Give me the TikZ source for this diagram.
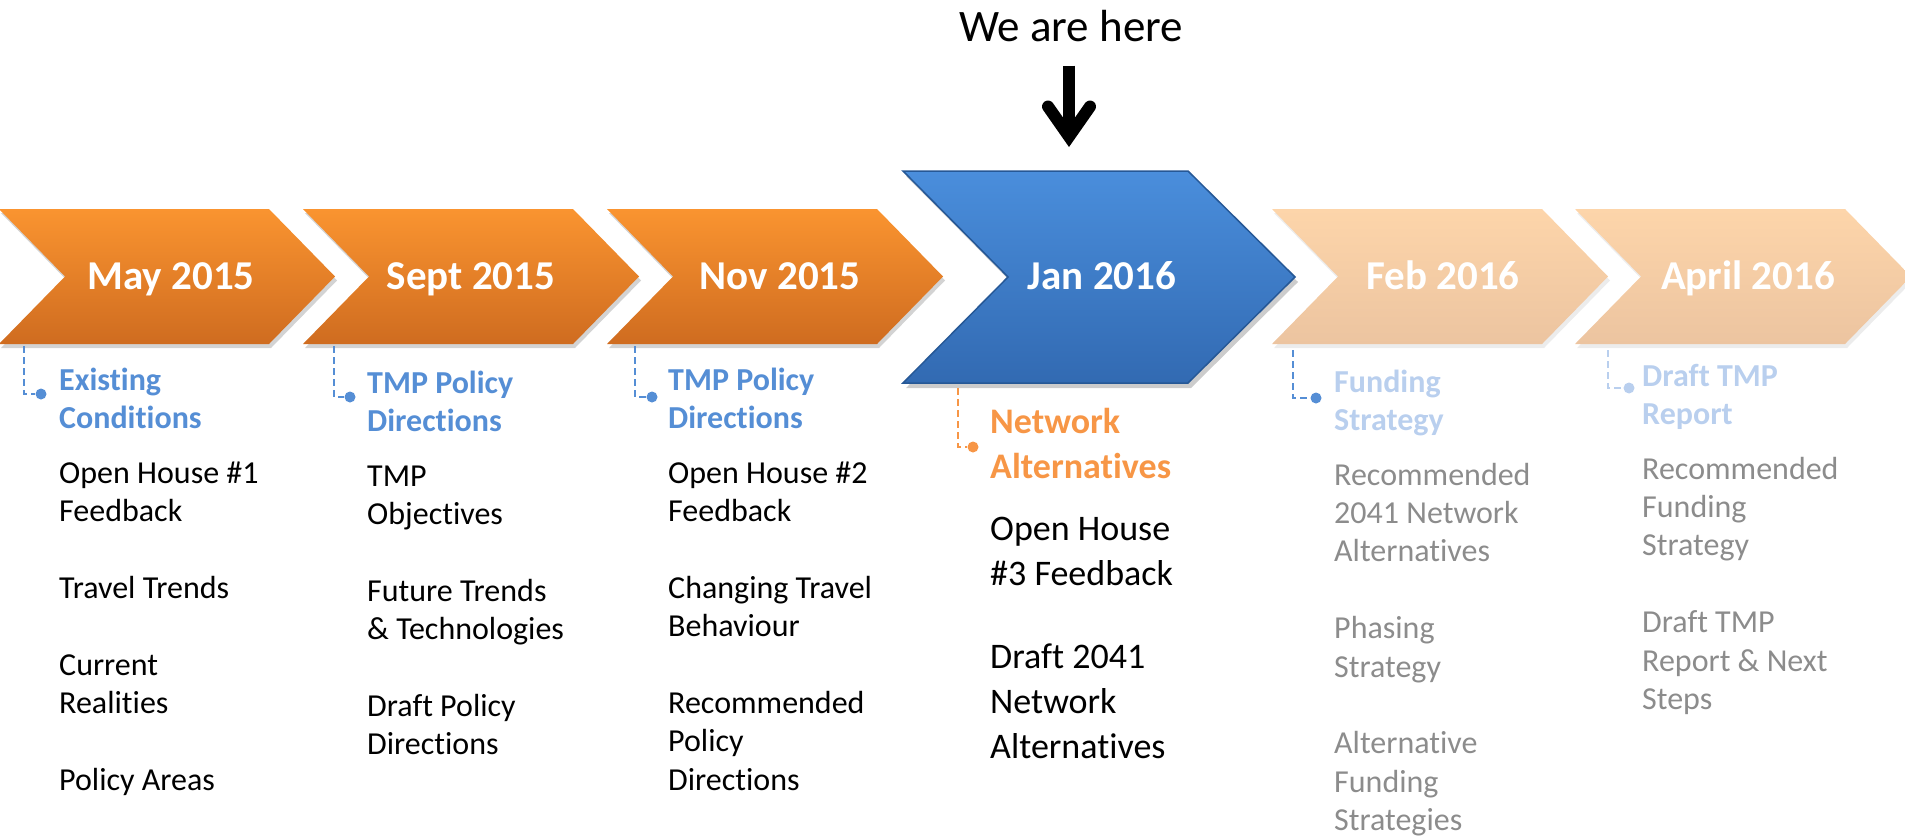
\documentclass[tikz,border=0pt]{standalone}
\usepackage{fontspec}
\setmainfont{Carlito}[Ligatures={NoCommon}]
\usetikzlibrary{arrows.meta, shadows, positioning}
\definecolor{orangetop}{RGB}{250,148,48}
\definecolor{orangebot}{RGB}{207,108,32}
\definecolor{peachtop}{RGB}{253,213,170}
\definecolor{peachbot}{RGB}{236,196,160}
\definecolor{bluetop}{RGB}{74,142,220}
\definecolor{bluebot}{RGB}{50,106,178}
\definecolor{blueedge}{RGB}{38,88,150}
\definecolor{headblue}{RGB}{85,142,213}
\definecolor{headorange}{RGB}{247,150,70}
\definecolor{fadeblue}{RGB}{185,207,238}
\definecolor{fadegrey}{RGB}{140,140,140}
\tikzset{>=stealth}

\begin{document}
\begin{tikzpicture}[x=1pt, y=-1pt,
  orangechev/.style={top color=orangetop, bottom color=orangebot, drop shadow={opacity=.35, shadow xshift=2pt, shadow yshift=-4pt}},
  peachchev/.style={top color=peachtop, bottom color=peachbot, drop shadow={opacity=.15, shadow xshift=2pt, shadow yshift=-4pt}},
  date/.style={anchor=base, inner sep=0, text=white, font=\fontsize{41}{49}\selectfont\bfseries},
  head/.style={anchor=base west, inner sep=0, align=left, font=\fontsize{32}{38.4}\selectfont\bfseries},
  item/.style={anchor=base west, inner sep=0, align=left, font=\fontsize{32}{38.4}\selectfont},
  dot/.style={circle, inner sep=0, minimum size=11pt},
  bracket/.style={dash pattern=on 7pt off 4pt, line width=1.6pt}]
\useasboundingbox (0,0) rectangle (1905,836);
\clip (0,0) rectangle (1905,836);

\node[anchor=base, inner sep=0, font=\fontsize{45}{54}\selectfont] (here) at (1071,41) {We are here};
\coordinate (hereend) at (1069,147);
\draw[line width=12pt, -{Straight Barb[length=30pt, width=42pt, line cap=round, line join=miter]}, shorten <=24pt] (here.south -| hereend) -- (hereend);

\foreach \l in {-1,303,607}
  \path[orangechev] (\l,209) -- ++(270,0) -- ++(66,67.5) -- ++(-66,67.5) -- ++(-270,0) -- ++(66,-67.5) -- cycle;
\foreach \l in {1272,1575}
  \path[peachchev] (\l,209) -- ++(270,0) -- ++(66,67.5) -- ++(-66,67.5) -- ++(-270,0) -- ++(66,-67.5) -- cycle;
\path[top color=bluetop, bottom color=bluebot, draw=blueedge, line width=1.5pt, drop shadow={opacity=.4, shadow xshift=3pt, shadow yshift=-5pt}]
  (903,171) -- (1188,171) -- (1295,277) -- (1188,383) -- (903,383) -- (1008,277) -- cycle;

\node[date] (may) at (171,289) {May 2015};
\node[date] (sept) at (471,289) {Sept 2015};
\node[date] (nov) at (780,289) {Nov 2015};
\node[date] (jan) at (1102,289) {Jan 2016};
\node[date] (feb) at (1443,289) {Feb 2016};
\node[date] (april) at (1748,289) {April 2016};

\node[head, text=headblue] (mayhead) at (59,428.4) {Existing\\Conditions};
\node[dot, fill=headblue] (maydot) at (41,394) {};
\coordinate (maytop) at (24,346);
\draw[bracket, headblue] (maytop) |- (maydot);
\node[item] (mayitems) at (59,790.2) {Open House \#1\\Feedback\\[38.4pt]Travel Trends\\[38.4pt]Current\\Realities\\[38.4pt]Policy Areas};

\node[head, text=headblue] (septhead) at (367,431.4) {TMP Policy\\Directions};
\node[dot, fill=headblue] (septdot) at (350,397) {};
\coordinate (septtop) at (334,346);
\draw[bracket, headblue] (septtop) |- (septdot);
\node[item] (septitems) at (367,754.8) {TMP\\Objectives\\[38.4pt]Future Trends\\\& Technologies\\[38.4pt]Draft Policy\\Directions};

\node[head, text=headblue] (novhead) at (668,428.4) {TMP Policy\\Directions};
\node[dot, fill=headblue] (novdot) at (652,397) {};
\coordinate (novtop) at (635,346);
\draw[bracket, headblue] (novtop) |- (novdot);
\node[item] (novitems) at (668,790.2) {Open House \#2\\Feedback\\[38.4pt]Changing Travel\\Behaviour\\[38.4pt]Recommended\\Policy\\Directions};

\node[head, text=headorange, font=\fontsize{36}{45}\selectfont\bfseries] (janhead) at (990,478) {Network\\Alternatives};
\node[dot, fill=headorange] (jandot) at (973,447) {};
\coordinate (jantop) at (958,388);
\draw[bracket, headorange] (jantop) |- (jandot);
\node[item, font=\fontsize{36}{45}\selectfont] (janitems) at (990,758) {Open House\\\#3 Feedback\\[38pt]Draft 2041\\Network\\Alternatives};

\node[head, text=fadeblue] (febhead) at (1334,430.4) {Funding\\Strategy};
\node[dot, fill=headblue] (febdot) at (1316,398) {};
\coordinate (febtop) at (1293,350);
\draw[bracket, headblue] (febtop) |- (febdot);
\node[item, text=fadegrey] (febitems) at (1334,830.6) {Recommended\\2041 Network\\Alternatives\\[38.4pt]Phasing\\Strategy\\[38.4pt]Alternative\\Funding\\Strategies};

\node[head, text=fadeblue] (aprilhead) at (1642,424.4) {Draft TMP\\Report};
\node[dot, fill=fadeblue] (aprildot) at (1629,388) {};
\coordinate (apriltop) at (1608,350);
\draw[bracket, fadeblue] (apriltop) |- (aprildot);
\node[item, text=fadegrey] (aprilitems) at (1642,709.4) {Recommended\\Funding\\Strategy\\[38.4pt]Draft TMP\\Report \& Next\\Steps};
\end{tikzpicture}
\end{document}
